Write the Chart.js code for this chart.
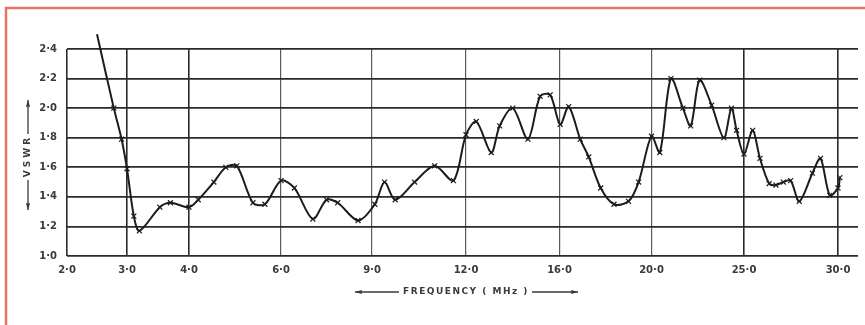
<!DOCTYPE html>
<html>
<head>
<meta charset="utf-8">
<script src="https://cdn.jsdelivr.net/npm/chart.js@4.4.1/dist/chart.umd.min.js"></script>
<style>
  html, body { margin: 0; padding: 0; background: #ffffff; }
  #wrap { width: 865px; height: 325px; }
</style>
</head>
<body>
<div id="wrap"><canvas id="vswrChart" width="865" height="325"></canvas></div>
<script>
// frequency (MHz) of each plotted point and the measured VSWR
const freqMHz = [
  2.50, 2.78, 2.91, 3.00, 3.11, 3.20, 3.53, 3.70, 4.00, 4.20,
  4.54, 4.80, 5.04, 5.39, 5.65, 6.00, 6.44, 7.05, 7.50, 7.87,
  8.54, 9.09, 9.40, 9.74, 10.36, 11.00, 11.60, 12.00, 12.44, 13.08,
  13.44, 14.00, 14.65, 15.17, 15.60, 16.03, 16.40, 16.90, 17.27, 17.79,
  18.37, 19.00, 19.44, 20.00, 20.45, 21.05, 21.70, 22.12, 22.60, 23.25,
  23.91, 24.32, 24.60, 25.00, 25.46, 25.85, 26.34, 26.70, 27.09, 27.48,
  27.94, 28.64, 29.07, 29.56, 30.00, 30.10
];
const vswr = [
  2.50, 2.00, 1.79, 1.59, 1.27, 1.17, 1.33, 1.36, 1.33, 1.38,
  1.50, 1.60, 1.61, 1.36, 1.35, 1.51, 1.46, 1.25, 1.38, 1.36,
  1.24, 1.35, 1.50, 1.38, 1.50, 1.61, 1.51, 1.82, 1.91, 1.70,
  1.88, 2.00, 1.79, 2.08, 2.09, 1.89, 2.01, 1.79, 1.67, 1.46,
  1.35, 1.37, 1.50, 1.81, 1.70, 2.20, 2.00, 1.88, 2.19, 2.02,
  1.80, 2.00, 1.85, 1.69, 1.85, 1.66, 1.49, 1.48, 1.50, 1.51,
  1.37, 1.56, 1.66, 1.41, 1.46, 1.53
];

// frequency axis labels and the y ticks
const freqTicks = [2, 3, 4, 6, 9, 12, 16, 20, 25, 30];
const freqTickLabels = ['2·0', '3·0', '4·0', '6·0', '9·0', '12·0', '16·0', '20·0', '25·0', '30·0'];
const vswrTicks = [1.0, 1.2, 1.4, 1.6, 1.8, 2.0, 2.2, 2.4];

// the frequency scale of the graph paper is not uniform:
// where each labelled frequency sits along the axis
const freqStops = [0, 60, 122, 214, 305, 399, 492.5, 584.5, 677, 771];
const axisEnd = 791;

function gridPos(f) {
  let i = 0;
  while (i < freqTicks.length - 2 && f > freqTicks[i + 1]) i++;
  const f0 = freqTicks[i], f1 = freqTicks[i + 1];
  const p0 = freqStops[i], p1 = freqStops[i + 1];
  return p0 + (f - f0) / (f1 - f0) * (p1 - p0);
}

const INK = '#1c1c1c';
const LABEL = '#3a3a3a';
const FONT = '"DejaVu Sans", sans-serif';

function arrow(ctx, x1, y1, x2, y2) {
  // line from (x1,y1) with a head at (x2,y2)
  const a = Math.atan2(y2 - y1, x2 - x1);
  ctx.beginPath();
  ctx.moveTo(x1, y1);
  ctx.lineTo(x2, y2);
  ctx.stroke();
  ctx.beginPath();
  ctx.moveTo(x2, y2);
  ctx.lineTo(x2 - 7 * Math.cos(a - 0.3), y2 - 7 * Math.sin(a - 0.3));
  ctx.lineTo(x2 - 7 * Math.cos(a + 0.3), y2 - 7 * Math.sin(a + 0.3));
  ctx.closePath();
  ctx.fill();
}

const decorations = {
  id: 'decorations',
  afterDraw(chart) {
    const ctx = chart.ctx;
    ctx.save();

    // frame
    ctx.strokeStyle = '#e8735f';
    ctx.lineWidth = 2.5;
    ctx.beginPath();
    ctx.moveTo(6, 330);
    ctx.lineTo(6, 8);
    ctx.lineTo(870, 8);
    ctx.stroke();

    ctx.fillStyle = LABEL;
    ctx.strokeStyle = LABEL;
    ctx.lineWidth = 1.3;
    ctx.font = 'bold 9px ' + FONT;
    ctx.textBaseline = 'middle';

    // frequency title
    ctx.textAlign = 'center';
    ctx.letterSpacing = '1.5px';
    ctx.fillText('FREQUENCY ( MHz )', 466, 292);
    ctx.letterSpacing = '0px';
    arrow(ctx, 399, 292, 355, 292);
    arrow(ctx, 532, 292, 578, 292);

    // VSWR title, rotated
    ctx.save();
    ctx.translate(28, 158);
    ctx.rotate(-Math.PI / 2);
    ctx.letterSpacing = '3px';
    ctx.fillText('VSWR', 2, 0);
    ctx.letterSpacing = '0px';
    arrow(ctx, 24, 0, 58, 0);
    arrow(ctx, -22, 0, -52, 0);
    ctx.restore();

    ctx.restore();
  }
};

document.addEventListener('DOMContentLoaded', function() {
  const canvas = document.getElementById('vswrChart');

  new Chart(canvas.getContext('2d'), {
    type: 'line',
    data: {
      datasets: [{
        data: freqMHz.map((f, i) => ({ x: gridPos(f), y: vswr[i] })),
        borderColor: INK,
        borderWidth: 2,
        tension: 0.3,
        clip: false,
        pointStyle: 'crossRot',
        pointRadius: ctx => (ctx.dataIndex === 0 ? 0 : 3.5),
        pointBorderWidth: 1.2,
        pointBorderColor: INK,
        pointBackgroundColor: INK
      }]
    },
    options: {
      responsive: false,
      animation: false,
      layout: { padding: { top: 49, right: 7, left: 0, bottom: 0 } },
      plugins: {
        legend: { display: false },
        tooltip: { enabled: false }
      },
      scales: {
        x: {
          type: 'linear',
          min: 0,
          max: axisEnd,
          afterFit: scale => { scale.height = 69; },
          afterBuildTicks: scale => {
            scale.ticks = freqTicks.map(f => ({ value: gridPos(f) }));
          },
          ticks: {
            padding: 8,
            color: LABEL,
            font: { family: FONT, size: 10, weight: 'bold' },
            maxRotation: 0,
            autoSkip: false,
            callback: (value, index) => freqTickLabels[index]
          },
          grid: {
            drawTicks: false,
            color: ctx => ([0, 1, 2, 8, 9].includes(ctx.index) ? '#2a2a2a' : '#5a5a5a'),
            lineWidth: ctx => ([0, 1, 2, 8, 9].includes(ctx.index) ? 1.6 : 1.2)
          },
          border: { display: false }
        },
        y: {
          min: 1.0,
          max: 2.4,
          afterFit: scale => { scale.width = 67; },
          afterBuildTicks: scale => {
            scale.ticks = vswrTicks.map(v => ({ value: v }));
          },
          ticks: {
            padding: 10,
            color: LABEL,
            font: { family: FONT, size: 10, weight: 'bold' },
            callback: value => value.toFixed(1).replace('.', '·')
          },
          grid: {
            drawTicks: false,
            color: '#2a2a2a',
            lineWidth: 1.8
          },
          border: { display: false }
        }
      }
    },
    plugins: [decorations]
  });
});
</script>
</body>
</html>
